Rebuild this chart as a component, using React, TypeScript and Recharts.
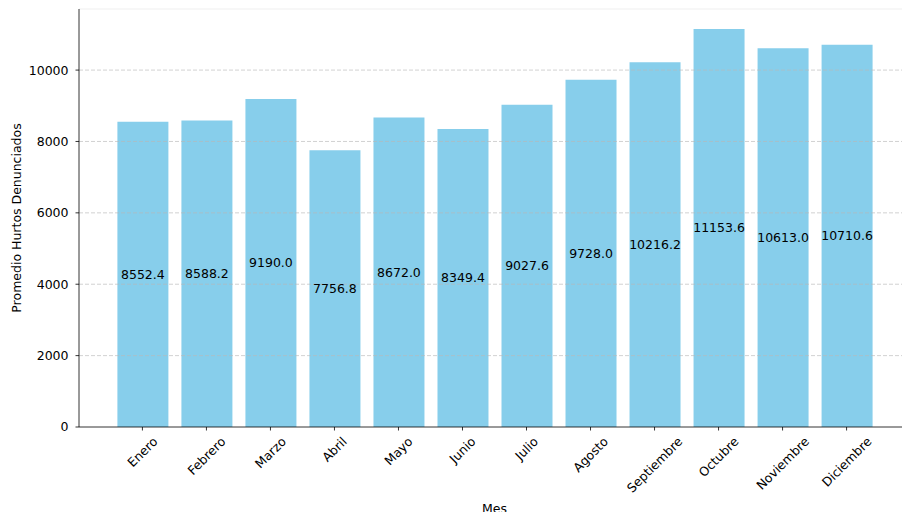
import React from 'react';
import { BarChart, Bar, XAxis, YAxis, ReferenceLine, LabelList } from 'recharts';

const months = ['Enero', 'Febrero', 'Marzo', 'Abril', 'Mayo', 'Junio', 'Julio', 'Agosto', 'Septiembre', 'Octubre', 'Noviembre', 'Diciembre'];
const values = [8552.4, 8588.2, 9190.0, 7756.8, 8672.0, 8349.4, 9027.6, 9728.0, 10216.2, 11153.6, 10613.0, 10710.6];
const yTicks = [0, 2000, 4000, 6000, 8000, 10000];

const data = months.map((m, i) => ({ mes: m, valor: values[i] }));

const FONT = '"DejaVu Sans", sans-serif';
const FS = 12.5;
const Y_MAX = 11711.3;

let ctx: CanvasRenderingContext2D | null = null;
function measure(t: string): number {
  if (!ctx) {
    const c = document.createElement('canvas');
    ctx = c.getContext('2d');
  }
  if (!ctx) return t.length * FS * 0.6;
  ctx.font = `${FS}px "DejaVu Sans"`;
  return ctx.measureText(t).width;
}

const XTick = (props: any) => {
  const { x, payload } = props;
  const label = String(payload.value);
  const w = measure(label);
  const h = FS * 1.17;
  const bb = (w + h) * Math.SQRT1_2;
  const cy = 427 + 3.5 + 3.5 + bb / 2;
  return (
    <text
      transform={`translate(${x},${cy}) rotate(-45)`}
      textAnchor="middle"
      dominantBaseline="central"
      fontFamily={FONT}
      fontSize={FS}
      fill="#000"
    >
      {label}
    </text>
  );
};

export default function App() {
  return (
    <div style={{ position: 'fixed', left: 0, top: 0, width: 902, height: 512, overflow: 'hidden', background: '#fff' }}>
      <BarChart
        width={920}
        height={512}
        data={data}
        margin={{ top: 9, right: 10, bottom: 0, left: 0 }}
      >
        <XAxis
          dataKey="mes"
          height={85}
          padding={{ left: 31.4, right: 31.4 }}
          tickSize={3.5}
          tickLine={{ stroke: '#000', strokeWidth: 0.8 }}
          axisLine={{ stroke: '#000', strokeWidth: 0.8 }}
          tick={<XTick />}
          interval={0}
          label={{
            content: (p: any) => {
              const vb = p.viewBox || { x: 79, width: 831 };
              return (
                <text x={vb.x + vb.width / 2} y={513} textAnchor="middle" fontFamily={FONT} fontSize={FS} fill="#000">
                  Mes
                </text>
              );
            },
          }}
        />
        <YAxis
          width={79}
          domain={[0, Y_MAX]}
          ticks={yTicks}
          type="number"
          allowDataOverflow
          tickSize={3.5}
          tickMargin={7}
          tickLine={{ stroke: '#000', strokeWidth: 0.8 }}
          axisLine={{ stroke: '#000', strokeWidth: 0.8 }}
          tick={{ fontFamily: FONT, fontSize: FS, fill: '#000' }}
          label={{
            content: () => (
              <text
                transform={`translate(16,218) rotate(-90)`}
                textAnchor="middle"
                dominantBaseline="central"
                fontFamily={FONT}
                fontSize={FS}
                fill="#000"
              >
                Promedio Hurtos Denunciados
              </text>
            ),
          }}
        />
        <Bar dataKey="valor" fill="#87CEEB" barSize={51} isAnimationActive={false}>
          <LabelList
            dataKey="valor"
            position="center"
            formatter={(v: any) => Number(v).toFixed(1)}
            fill="#000"
            fontFamily={FONT}
            fontSize={FS}
          />
        </Bar>
        {yTicks.slice(1).map((t) => (
          <ReferenceLine key={t} y={t} stroke="#b8b8b8" strokeOpacity={0.8} strokeDasharray="4 2" strokeWidth={0.8} />
        ))}
        <ReferenceLine y={Y_MAX} stroke="#ebebeb" strokeWidth={0.8} />
      </BarChart>
    </div>
  );
}
